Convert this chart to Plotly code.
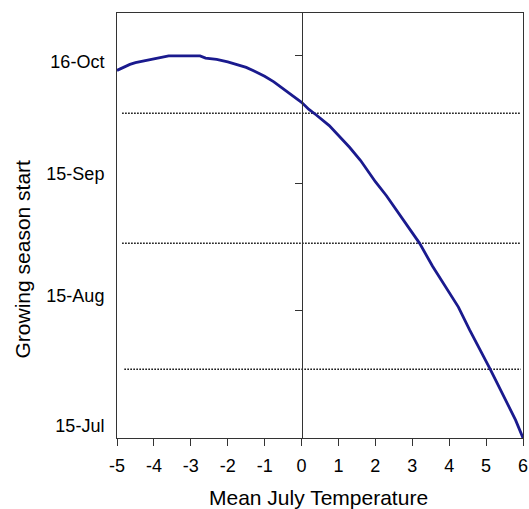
import plotly.graph_objects as go

# Data (y in days above 15-Jul baseline)
temps = [-5, -4.65, -4.5, -4, -3.75, -3.6, -3.2, -2.75, -2.6, -2.3, -2, -1.75, -1.5, -1.3,
         -1, -0.75, -0.5, -0.3, 0, 0.2, 0.4, 0.75, 1.0, 1.3, 1.6, 2.0, 2.3, 2.6, 2.9, 3.2,
         3.55, 3.8, 4.0, 4.25, 4.55, 4.9, 5.1, 5.3, 5.55, 5.8, 6.0]
days = [86.5, 87.9, 88.3, 89.1, 89.6, 89.9, 89.9, 89.9, 89.4, 89.1, 88.5, 87.9, 87.2, 86.4,
        85.1, 83.8, 82.2, 81.0, 79.0, 77.3, 76.0, 73.5, 71.2, 68.4, 65.3, 60.3, 57.0, 53.3, 49.6, 45.8,
        40.4, 37.0, 34.2, 30.8, 25.5, 19.9, 16.4, 12.9, 8.4, 4.2, 0.0]

x_tickvals = [-5, -4, -3, -2, -1, 0, 1, 2, 3, 4, 5, 6]
x_ticktext = ["-5", "-4", "-3", "-2", "-1", "0", "1", "2", "3", "4", "5", "6"]
y_label_pos = [2.9, 33.4, 62.1, 88.6]
y_label_text = ["15-Jul", "15-Aug", "15-Sep", "16-Oct"]
y_mid_ticks = [0, 30, 60, 90]
ref_levels = [76.4, 45.8, 16.2]
ref_starts = [-4.86, -4.86, -4.80]
ref_end = 5.94

FONT = "Liberation Sans, Arial, sans-serif"

fig = go.Figure()
fig.add_trace(go.Scatter(x=temps, y=days, mode="lines",
                         line=dict(color="#1a1a8e", width=2.8), showlegend=False))
# invisible trace on yaxis2 to activate it
fig.add_trace(go.Scatter(x=[None], y=[None], yaxis="y2", showlegend=False))

for lvl, xs in zip(ref_levels, ref_starts):
    fig.add_shape(type="line", x0=xs, x1=ref_end, y0=lvl, y1=lvl, xref="x", yref="y",
                  line=dict(color="black", width=1.5, dash="1.5px,1.5px"), layer="below")

fig.update_layout(
    width=529, height=509,
    margin=dict(l=117, r=6, t=13, b=71, autoexpand=False),
    paper_bgcolor="white", plot_bgcolor="white",
    font=dict(family=FONT, color="black", size=18),
    xaxis=dict(range=[-5, 6], tickvals=x_tickvals, ticktext=x_ticktext,
               ticks="outside", ticklen=7, tickcolor="#333", tickwidth=1,
               showline=True, linecolor="#333", linewidth=1, mirror=True,
               showgrid=False, zeroline=False, domain=[0, 1], automargin=False,
               ticklabelstandoff=4, tickfont=dict(size=18, family=FONT)),
    yaxis=dict(range=[0, 100], tickvals=y_label_pos, ticktext=y_label_text,
               ticks="", showline=True, linecolor="#333", linewidth=1, mirror=True,
               showgrid=False, zeroline=False, ticklabelstandoff=8, automargin=False,
               tickfont=dict(size=18, family=FONT)),
    yaxis2=dict(range=[0, 100], overlaying="y", anchor="free", position=5 / 11, side="left",
                tickvals=y_mid_ticks, ticks="outside", ticklen=7, tickcolor="#333",
                showticklabels=False, showline=True, linecolor="#333", linewidth=1,
                showgrid=False, zeroline=False, automargin=False),
    annotations=[
        dict(text="Mean July Temperature", xref="paper", yref="paper", x=0.497, y=-0.14,
             xanchor="center", yanchor="middle", showarrow=False, font=dict(size=21, family=FONT)),
        dict(text="Growing season start", xref="paper", yref="paper", x=-0.233, y=0.421,
             xanchor="center", yanchor="middle", textangle=-90, showarrow=False,
             font=dict(size=21, family=FONT)),
    ],
)

fig.write_html("out.html", config={"displayModeBar": False},
               post_script="document.body.style.margin='0';document.body.style.overflow='hidden';")
